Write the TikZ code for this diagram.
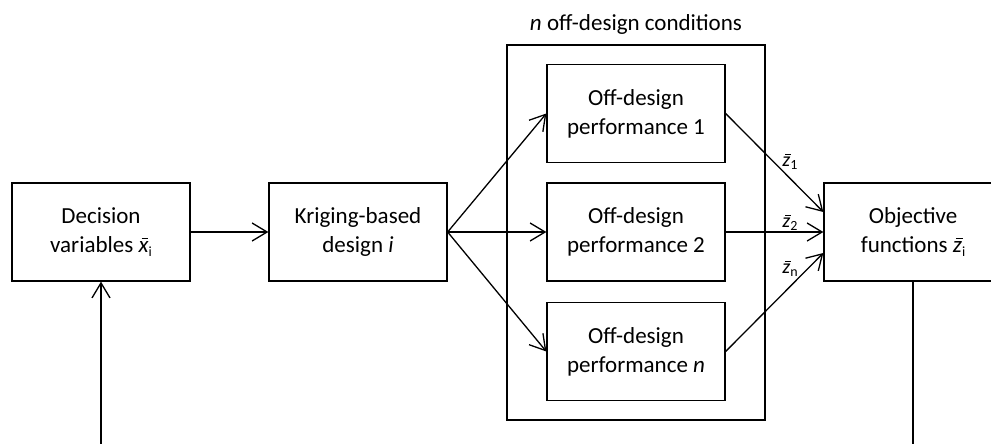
\documentclass[tikz,border=0pt]{standalone}
\usepackage{fontspec}
\setmainfont{Carlito}
\usetikzlibrary{arrows.meta, positioning, calc}
\newcommand{\lowidx}[1]{\raisebox{-0.35ex}{\fontsize{14}{14}\selectfont #1}}
\newcommand{\barvar}[1]{\textit{\rlap{\kern0.13em\raisebox{0.58em}{\rule{0.3em}{0.05em}}}#1}}

\begin{document}
\begin{tikzpicture}[x=1pt, y=-1pt, font=\fontsize{23}{29}\selectfont]
    % Styles
    \tikzstyle{block} = [rectangle, draw, line width=1.3pt, minimum width=178pt, minimum height=98pt, align=center, inner sep=0pt]
    \tikzstyle{arrow} = [line width=1.3pt, -{Straight Barb[length=15pt, width=18pt]}]
    \tikzstyle{line} = [line width=1.3pt]
    \tikzstyle{zlabel} = [font=\fontsize{20}{20}\selectfont, inner sep=0pt]

    \clip (0,0) rectangle (991,444);

    % Off-design group
    \node[rectangle, draw, line width=1.3pt, minimum width=258pt, minimum height=375pt] (group) at (636,232.5) {};
    \node (grouptitle) at (636,24) {\textit{n} off-design conditions};

    % Blocks
    \node[block] (decision) at (101,232) {Decision\\variables \barvar{x}\lowidx{i}};
    \node[block] (kriging) at (358,232) {Kriging-based\\design \textit{i}};
    \node[block] (offone) at (636,113.5) {Off-design\\performance 1};
    \node[block] (offtwo) at (636,232) {Off-design\\performance 2};
    \node[block] (offn) at (636,351.5) {Off-design\\performance \textit{n}};
    \node[block] (objective) at (913,232) {Objective\\functions \barvar{z}\lowidx{i}};

    % Labels
    \node[zlabel] (zone) at (790,162) {\barvar{z}\lowidx{1}};
    \node[zlabel] (ztwo) at (790,223) {\barvar{z}\lowidx{2}};
    \node[zlabel] (zn) at (790,269) {\barvar{z}\lowidx{n}};

    % Feedback ends
    \coordinate (fbdec) at (101,450);
    \coordinate (fbobj) at (913,450);

    % Arrows
    \draw[arrow] (decision) -- (kriging);
    \draw[arrow] (kriging.east) -- (offone.west);
    \draw[arrow] (kriging.east) -- (offtwo.west);
    \draw[arrow] (kriging.east) -- (offn.west);
    \draw[arrow] (offone.east) -- ([yshift=20pt]objective.west);
    \draw[arrow] (offtwo.east) -- (objective.west);
    \draw[arrow] (offn.east) -- ([yshift=-21pt]objective.west);
    \draw[line] (objective) -- (fbobj);
    \draw[arrow] (fbdec) -- (decision);
\end{tikzpicture}
\end{document}
